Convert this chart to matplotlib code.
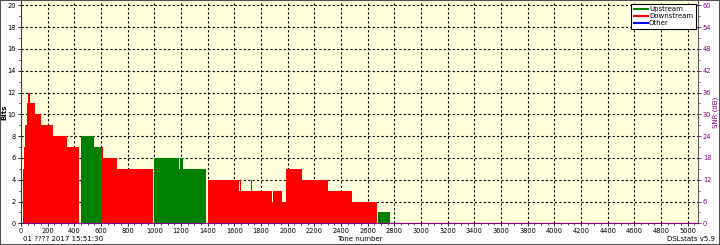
import matplotlib
matplotlib.use("Agg")
from matplotlib import pyplot as plt
from matplotlib.lines import Line2D
from matplotlib.patches import Rectangle
from matplotlib.ticker import MultipleLocator

# bit loading (tone edges and bits per step)
ds_edges_a = [12, 22, 32, 42, 52, 67, 102, 147, 237, 342, 432]
ds_bits_a = [5, 7, 9, 11, 12, 11, 10, 9, 8, 7]
ds_edges_b = [597, 612, 722, 987]
ds_bits_b = [7, 6, 5]
ds_edges_c = [1400, 1617, 1621, 1638, 1642, 1652, 1728, 1734, 1880, 1890,
              1955, 1987, 2105, 2112, 2305, 2480, 2667]
ds_bits_c = [4, 3, 4, 3, 4, 3, 4, 3, 2, 3, 2, 5, 4, 4, 3, 2]

us_edges_a = [447, 547, 597]
us_bits_a = [8, 7]
us_edges_b = [997, 1174, 1178, 1186, 1190, 1217, 1388]
us_bits_b = [6, 5, 6, 5, 6, 5]
us_edges_c = [2680, 2768]
us_bits_c = [1]

snr_ticks = list(range(0, 61, 6))
legend_names = ["Upstream", "Downstream", "Other"]

red = "#ff0000"
green = "#008000"
purple = "#800080"

fig = plt.figure(figsize=(7.2, 2.45), dpi=100)
fig.patch.set_facecolor("white")
ax = fig.add_axes([21/720, 21.7/245, 677/720, 221.8/245])
ax.set_facecolor("#ffffdc")

for e, b in [(ds_edges_a, ds_bits_a), (ds_edges_b, ds_bits_b), (ds_edges_c, ds_bits_c)]:
    ax.stairs(b, e, fill=True, color=red, linewidth=0)
for e, b in [(us_edges_a, us_bits_a), (us_edges_b, us_bits_b), (us_edges_c, us_bits_c)]:
    ax.stairs(b, e, fill=True, color=green, linewidth=0)

ax.set_xlim(0, 5077)
ax.set_ylim(0, 20.35)
ax.xaxis.set_major_locator(MultipleLocator(200))
ax.xaxis.set_minor_locator(MultipleLocator(50))
ax.yaxis.set_major_locator(MultipleLocator(2))
ax.yaxis.set_minor_locator(MultipleLocator(1))
ax.set_axisbelow(True)
ax.grid(which="major", color="black", linestyle=(0, (2, 2)), linewidth=0.8)
ax.tick_params(which="major", labelsize=4.8, length=2.5, pad=1, width=0.6)
ax.tick_params(which="minor", length=1.5, width=0.5)
ax.set_ylabel("Bits", fontsize=5, fontweight="bold")
ax.yaxis.set_label_coords(-0.02, 0.5)

ax.spines["bottom"].set_color(purple)
ax.spines["left"].set_color("#404040")
ax.spines["top"].set_visible(False)
ax.spines["right"].set_color("#606060")

ax2 = ax.twinx()
ax2.set_ylim(0, 61.05)
ax2.set_yticks(snr_ticks)
ax2.yaxis.set_minor_locator(MultipleLocator(3))
ax2.tick_params(axis="y", which="major", labelsize=4.8, length=2.5, pad=1,
                width=0.6, colors=purple)
ax2.tick_params(axis="y", which="minor", length=1.5, width=0.5, colors=purple)
ax2.set_ylabel("SNR (dB)", fontsize=5, color=purple)
ax2.yaxis.set_label_coords(1.022, 0.5)
for s in ax2.spines.values():
    s.set_visible(False)

handles = [Line2D([], [], color=c, lw=1.5) for c in [green, red, "#0000ff"]]
leg = ax.legend(handles, legend_names, loc="upper right", fontsize=5,
                frameon=True, fancybox=False, borderpad=0.4, handlelength=2.0,
                handletextpad=0.2, labelspacing=0.15, borderaxespad=0.3)
leg.get_frame().set_edgecolor("black")
leg.get_frame().set_linewidth(0.8)
leg.get_frame().set_facecolor("white")
leg.get_frame().set_alpha(1)

fig.text(23/720, 1 - 238.5/245, "01 ???? 2017 15:51:30", fontsize=5, va="center")
fig.text(360/720, 1 - 238.5/245, "Tone number", fontsize=5, va="center", ha="center")
fig.text(715/720, 1 - 238.5/245, "DSLstats v5.9", fontsize=5, va="center", ha="right")

fig.patches.append(Rectangle((0, 0), 1, 1, transform=fig.transFigure, fill=False,
                             edgecolor="#505050", linewidth=1.5))

fig.savefig("out.png", dpi=100)
